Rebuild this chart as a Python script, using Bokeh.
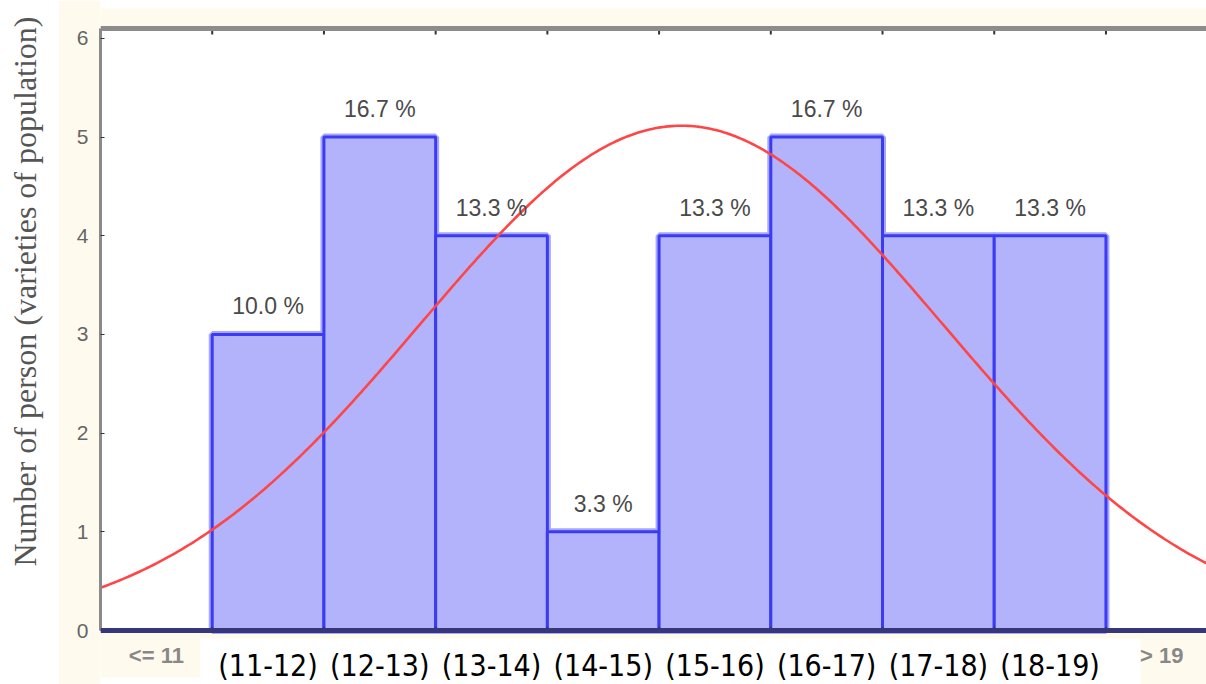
import numpy as np
from bokeh.plotting import figure
from bokeh.layouts import row
from bokeh.models import (ColumnDataSource, Range1d, FixedTicker, LinearAxis,
                          BoxAnnotation, Span)
from bokeh.core.properties import value
from bokeh.embed import file_html
from bokeh.resources import INLINE

# Age classes and the number of persons in each class
categories = ["<= 11", "(11-12)", "(12-13)", "(13-14)", "(14-15)",
              "(15-16)", "(16-17)", "(17-18)", "(18-19)", "> 19"]
bin_left = [10, 11, 12, 13, 14, 15, 16, 17, 18, 19]
counts = [0, 3, 5, 4, 1, 4, 5, 4, 4, 0]
y_ticks = [0, 1, 2, 3, 4, 5, 6]
y_top = 6.1
y_title = "Number of person (varieties of population)"

# Fitted normal curve parameters
fit_mean = 15.2
fit_sd = 2.34

total = sum(counts)
centers = [b + 0.5 for b in bin_left]
edges = bin_left[1:]

bars = [(b, b + 1, c) for b, c in zip(bin_left, counts) if c > 0]
bar_src = ColumnDataSource(dict(
    left=[b[0] for b in bars], right=[b[1] for b in bars],
    top=[b[2] for b in bars], bottom=[0] * len(bars),
    x=[(b[0] + b[1]) / 2 for b in bars],
    pct=[f"{b[2] / total * 100:.1f} %" for b in bars],
))

H = 684
LEFT_W = 58

# narrow white strip carrying the vertical axis title
side = figure(width=LEFT_W, height=H, output_backend="svg", toolbar_location=None,
              x_range=Range1d(0, LEFT_W), y_range=Range1d(0, H),
              min_border=0, x_axis_location=None, y_axis_location=None)
side.outline_line_color = None
side.grid.visible = False
side.background_fill_color = "white"
side.border_fill_color = "white"
side.text(x=[24], y=[H - 291], text=[y_title], angle=np.pi / 2,
          text_align="center", text_baseline="middle",
          text_font=value("Liberation Serif"), text_font_size="32px",
          text_color="#555555")

# main plot area runs from the top of the canvas to its bottom; the value
# axis is bounded to [0, y_top] and the class names sit below zero
PX = 98.69  # pixels per count
p = figure(width=1206 - LEFT_W, height=H, output_backend="svg", toolbar_location=None,
           x_range=Range1d(10, 19.9), y_range=Range1d(-54 / PX, 630 / PX),
           min_border_left=42, min_border_right=0, min_border_top=0,
           min_border_bottom=0, x_axis_location=None, y_axis_location=None)
CREAM = "#fffaee"
p.border_fill_color = CREAM
p.background_fill_color = "white"
p.outline_line_color = None
p.grid.visible = False

# cream band above the top frame line
p.add_layout(BoxAnnotation(bottom=y_top, top=y_top + 20 / PX, fill_color=CREAM,
                           fill_alpha=1.0, line_color=None, level="underlay"))
# cream strip under the value axis, white band behind the class names
p.add_layout(BoxAnnotation(top=0, fill_color=CREAM, fill_alpha=1.0,
                           line_color=None, level="underlay"))
p.add_layout(BoxAnnotation(left=10.895, right=19.309, top=-8 / PX,
                           fill_color="white", fill_alpha=1.0,
                           line_color=None, level="underlay"))
p.add_layout(BoxAnnotation(right=10.895, top=-47 / PX,
                           fill_color="white", fill_alpha=1.0,
                           line_color=None, level="underlay"))

# histogram bars: soft halo, then fill with blue outline
p.quad(left="left", right="right", top="top", bottom="bottom", source=bar_src,
       fill_color=None, line_color="#a8a8fa", line_width=7)
p.quad(left="left", right="right", top="top", bottom="bottom", source=bar_src,
       fill_color="#b3b3fb", line_color="#3b3bf4", line_width=3)

# fitted normal curve
xs = np.linspace(10, 19.9, 400)
ys = total * np.exp(-0.5 * ((xs - fit_mean) / fit_sd) ** 2) / (fit_sd * np.sqrt(2 * np.pi))
p.line(xs, ys, line_color="#ff4545", line_width=2.6)

# percentage labels above the bars
p.text(x="x", y="top", text="pct", source=bar_src, y_offset=-28,
       text_align="center", text_baseline="middle",
       text_font=value("Liberation Sans"), text_font_size="23px",
       text_color="#4a4a4a")

# frame lines: top (grey) and zero line (navy), with ticks at class edges
p.add_layout(Span(location=y_top, dimension="width", line_color="#8c8c8c",
                  line_width=5))
p.segment(x0=edges, y0=[y_top] * len(edges), x1=edges,
          y1=[y_top - 6 / PX] * len(edges), line_color="#333333", line_width=2)
p.add_layout(Span(location=0, dimension="width", line_color="#36367a",
                  line_width=5))
p.segment(x0=edges, y0=[0] * len(edges), x1=edges, y1=[3 / PX] * len(edges),
          line_color="#222222", line_width=2)

# class names under the bins
p.text(x=centers[1:-1], y=[0] * 8, text=categories[1:-1], y_offset=35,
       text_align="center", text_baseline="middle",
       text_font=value("DejaVu Sans Condensed"), text_font_size="30px",
       text_color="black")
p.text(x=[centers[0], centers[-1]], y=[0, 0], text=[categories[0], categories[-1]],
       y_offset=25, text_align="center", text_baseline="middle",
       text_font=value("Liberation Sans"), text_font_style="bold",
       text_font_size="22px", text_color="#888888")

# left value axis
yax = LinearAxis(ticker=FixedTicker(ticks=y_ticks), bounds=(0, y_top))
yax.axis_line_color = "#8a8a8a"
yax.axis_line_width = 3
yax.major_tick_in = 4
yax.major_tick_out = 0
yax.major_tick_line_color = "#333333"
yax.minor_tick_line_color = None
yax.major_label_text_font = "Liberation Sans"
yax.major_label_text_font_size = "21px"
yax.major_label_text_color = "#666666"
yax.major_label_standoff = 12
p.add_layout(yax, "left")

layout = row(side, p, spacing=0)
open("out.html", "w").write(file_html(layout, INLINE))
